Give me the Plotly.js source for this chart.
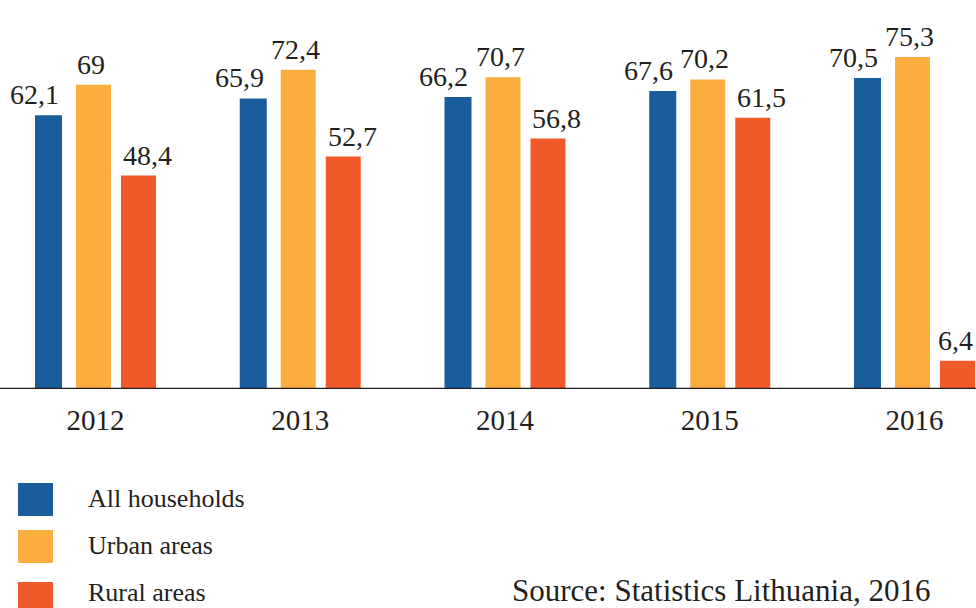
<!DOCTYPE html>
<html>
<head>
<meta charset="utf-8">
<script src="https://cdn.plot.ly/plotly-3.0.1.min.js"></script>
<style>html,body{margin:0;padding:0;background:#fff;}#chart{width:976px;height:608px;}</style>
</head>
<body>
<div id="chart"></div>
<script>
// ---- data ----
const years = ['2012', '2013', '2014', '2015', '2016'];
const seriesNames = ['All households', 'Urban areas', 'Rural areas'];
const allHouseholds = [62.1, 65.9, 66.2, 67.6, 70.5];
const urbanAreas = [69, 72.4, 70.7, 70.2, 75.3];
const ruralAreas = [48.4, 52.7, 56.8, 61.5, 6.4];
const sourceText = 'Source: Statistics Lithuania, 2016';

// ---- style ----
const W = 976, H = 608, PLOT_H = 389;
const colors = ['#1a5d9c', '#fbae3f', '#f05a2b'];
const textColor = '#231f20';
const FONT = 'Liberation Serif, Times New Roman, serif';
const LABEL_SIZE = 28;
// bar geometry in category units
const offsets = [-0.2955, -0.0952, 0.1245];
const widths = [0.1319, 0.1709, 0.1709];
const labelShift = [-14, -3, 9];
const X0 = -0.4664, X1 = 4.3004;
const seriesValues = [allHouseholds, urbanAreas, ruralAreas];

const fmt = v => String(v).replace('.', ',');
const textW = t => t.split('').reduce((a, c) => a + (c === ',' ? 0.25 : 0.5), 0) * LABEL_SIZE;
const toPx = x => (x - X0) / (X1 - X0) * W;

const traces = seriesValues.map((vals, s) => ({
  type: 'bar',
  name: seriesNames[s],
  x: years,
  y: vals,
  width: years.map(() => widths[s]),
  offset: years.map(() => offsets[s]),
  marker: {color: colors[s], line: {width: 0}},
  hoverinfo: 'x+y',
  showlegend: false
}));

const annotations = [];
seriesValues.forEach((vals, s) => {
  vals.forEach((v, i) => {
    const xc = i + offsets[s] + widths[s] / 2;
    const t = fmt(v);
    let sh = labelShift[s];
    const right = toPx(xc) + sh + textW(t) / 2;
    if (right > W - 3) sh -= (right - (W - 3));
    annotations.push({
      x: xc, y: v, xref: 'x', yref: 'y',
      text: t, showarrow: false,
      xanchor: 'center', yanchor: 'bottom',
      xshift: sh, yshift: 3,
      font: {family: FONT, size: LABEL_SIZE, color: textColor}
    });
  });
});

const yP = py => (PLOT_H - py) / PLOT_H;
const xP = px => px / W;

const shapes = [
  {type: 'line', xref: 'paper', yref: 'y', x0: 0, x1: 1, y0: 0, y1: 0,
   line: {color: '#231f20', width: 2.5}}
];
const legendTops = [483, 530, 582];
const legendTextY = [498, 545, 592];
seriesNames.forEach((n, s) => {
  shapes.push({type: 'rect', xref: 'paper', yref: 'paper',
    x0: xP(18), x1: xP(53), y0: yP(legendTops[s]), y1: yP(legendTops[s] + 33),
    fillcolor: colors[s], line: {width: 0}});
  annotations.push({xref: 'paper', yref: 'paper', x: xP(86), y: yP(legendTextY[s]),
    xanchor: 'left', yanchor: 'middle', text: n, showarrow: false,
    font: {family: FONT, size: 26, color: textColor}});
});
annotations.push({xref: 'paper', yref: 'paper', x: xP(510), y: yP(590),
  xanchor: 'left', yanchor: 'middle', text: sourceText, showarrow: false,
  font: {family: FONT, size: 31, color: textColor}});

const layout = {
  width: W, height: H,
  margin: {l: 0, r: 0, t: 0, b: H - PLOT_H, pad: 0},
  paper_bgcolor: '#ffffff', plot_bgcolor: '#ffffff',
  barmode: 'overlay',
  showlegend: false,
  xaxis: {type: 'category', range: [X0, X1], showgrid: false, zeroline: false,
    showline: false, ticks: '', ticklabelstandoff: 11,
    tickfont: {family: FONT, size: 29, color: textColor}, fixedrange: true},
  yaxis: {range: [0, PLOT_H / 4.41], showgrid: false, zeroline: false, showline: false,
    showticklabels: false, ticks: '', fixedrange: true},
  annotations: annotations,
  shapes: shapes
};

Plotly.newPlot('chart', traces, layout, {displayModeBar: false, staticPlot: true});
</script>
</body>
</html>
